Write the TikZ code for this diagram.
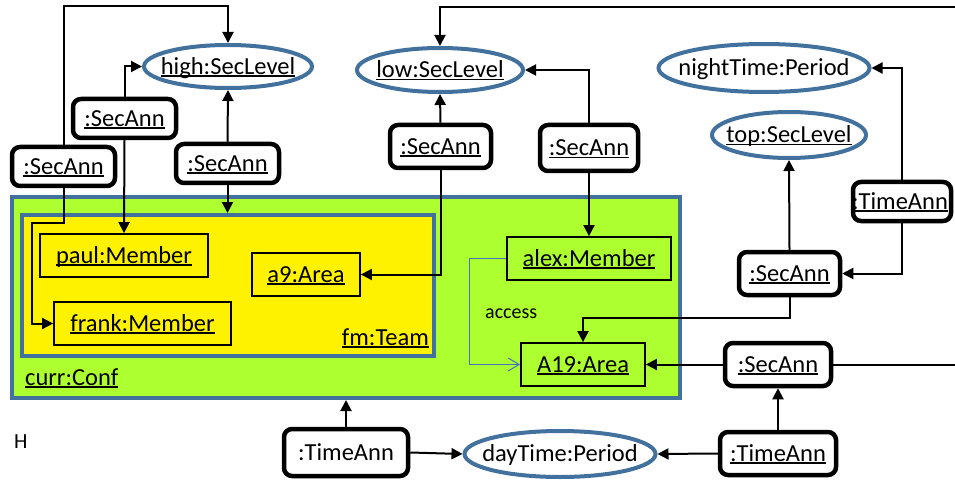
\documentclass[tikz,border=0pt]{standalone}
\usepackage{fontspec}
\setmainfont{Carlito}
\usetikzlibrary{arrows.meta,shapes.geometric}
\definecolor{frameblue}{RGB}{65,113,156}
\definecolor{confgreen}{RGB}{173,255,47}
\definecolor{accblue}{RGB}{68,114,196}
% underline set just below the baseline, crossing descenders
\newcommand\undl[1]{\setbox0=\hbox{#1}\rlap{\rule[-2.6pt]{\wd0}{1.5pt}}\box0}
\begin{document}
\begin{tikzpicture}[x=1pt,y=-1pt,
  font=\fontsize{24.5}{28}\selectfont,
  every node/.style={inner sep=0pt, text height=15.5pt, text depth=0pt},
  annbox/.style={draw, line width=4.5pt, rounded corners=8pt, fill=white},
  valell/.style={ellipse, draw=frameblue, line width=4pt, fill=white},
  objbox/.style={draw, line width=1.8pt},
  container/.style={draw=frameblue, line width=4pt},
  conn/.style={line width=2pt, -{Triangle[length=11pt,width=11pt]}},
  plainline/.style={line width=2pt},
  acc/.style={draw=accblue, line width=1pt, -{Straight Barb[length=11pt,width=13pt]}},
  lbl/.style={text height=, text depth=}]
\useasboundingbox (0,0) rectangle (955,481);

% containers
\node[container, fill=confgreen, minimum width=668pt, minimum height=201pt] (conf) at (346,297.5) {};
\node[container, fill=yellow, minimum width=412pt, minimum height=141pt] (team) at (228,285.5) {};
\node[lbl, anchor=base west] (confl) at (25,385) {\undl{curr:Conf}};
\node[lbl, anchor=base east] (teaml) at (429,345) {\undl{fm:Team}};

% objects inside the containers
\node[objbox, minimum width=168pt, minimum height=43pt] (paul) at (124,255.5) {\undl{paul:Member}};
\node[objbox, minimum width=177pt, minimum height=43pt] (frank) at (142.5,323.5) {\undl{frank:Member}};
\node[objbox, minimum width=108pt, minimum height=43pt] (a9) at (306,274.5) {\undl{a9:Area}};
\node[objbox, minimum width=164pt, minimum height=43pt] (alex) at (589,258.5) {\undl{alex:Member}};
\node[objbox, minimum width=124pt, minimum height=43pt] (a19) at (583,364.5) {\undl{A19:Area}};

% value ellipses (text placed separately so the ellipse keeps its size)
\node[valell, minimum width=168pt, minimum height=43pt] (high) at (228,66.5) {};
\node (hight) at (high) {\undl{high:SecLevel}};
\node[valell, minimum width=166pt, minimum height=44pt] (low) at (440,70) {};
\node (lowt) at (low) {\undl{low:SecLevel}};
\node[valell, minimum width=211pt, minimum height=48pt] (night) at (764,68) {};
\node (nightt) at (night) {nightTime:Period};
\node[valell, minimum width=154pt, minimum height=46pt] (top) at (789,135) {};
\node (topt) at (top) {\undl{top:SecLevel}};
\node[valell, minimum width=191pt, minimum height=46pt] (day) at (560,454) {};
\node (dayt) at (day) {dayTime:Period};

% annotation boxes
\node[annbox, minimum width=103pt, minimum height=39pt] (saA) at (63.5,166.5) {\undl{:SecAnn}};
\node[annbox, minimum width=103pt, minimum height=39pt] (saB) at (124.5,118.5) {\undl{:SecAnn}};
\node[annbox, minimum width=103pt, minimum height=39pt] (saC) at (227.5,163.5) {\undl{:SecAnn}};
\node[annbox, minimum width=101pt, minimum height=43pt] (saD) at (440.5,146.5) {\undl{:SecAnn}};
\node[annbox, minimum width=98pt, minimum height=46pt] (saE) at (589,148) {\undl{:SecAnn}};
\node[annbox, minimum width=98pt, minimum height=39pt] (taR) at (902,201.5) {};
\node (taRt) at (900,201.5) {\undl{:TimeAnn}};
\node[annbox, minimum width=101pt, minimum height=43pt] (saF) at (789.5,273.5) {\undl{:SecAnn}};
\node[annbox, minimum width=106pt, minimum height=43pt] (saG) at (778,364.5) {\undl{:SecAnn}};
\node[annbox, minimum width=116pt, minimum height=43pt] (taB) at (778,453.5) {\undl{:TimeAnn}};
\node[annbox, minimum width=124pt, minimum height=47pt] (taL) at (346,452.5) {:TimeAnn};

\node[lbl, anchor=base west, font=\fontsize{21.5}{24}\selectfont] (hl) at (14,448) {H};
\node[lbl, anchor=base west, font=\fontsize{20}{24}\selectfont] (accl) at (485,318) {access};

% free ends of lines that leave the picture
\coordinate (topin) at (955,7);
\coordinate (rightout) at (955,364.5);
\coordinate (accbend) at (469,258.5);

% connectors
\draw[conn] (saA.north) -- (saA.north |- 0,6) -| (high.north);
\draw[conn] (saA.south) |- (32,223) |- (frank.west);
\draw[conn] (saB.north) |- (high.west);
\draw[conn] (saB.south) -- (paul.north);
\draw[conn] (saC.north) -- (high.south);
\draw[conn] (saC.south) -- (saC.south |- team.north);
\draw[conn] (saD.north) -- (lowt.south |- low.south);
\draw[conn] (saD.south) |- (a9.east);
\draw[conn] (saE.north) |- (low.east);
\draw[conn] (saE.south) -- (alex.north);
\draw[conn] (topin) -| (low.north);
\draw[conn] (taR.north) |- (night.east);
\draw[conn] (taR.south) |- (saF.east);
\draw[conn] (saF.north) -- (top.south);
\draw[conn] (saF.south) -- (saF.south |- 0,318) -| (a19.north);
\draw[conn] (saG.west) -- (a19.east);
\draw[plainline] (saG.east) -- (rightout);
\draw[conn] (taB.north) -- (saG.south);
\draw[conn] (taB.west) -- (day.east);
\draw[conn] (taL.east) -- (day.west);
\draw[conn] (taL.north) -- (taL.north |- conf.south);
\draw[acc] (alex.west) -- (accbend) |- (a19.west);
\end{tikzpicture}
\end{document}
